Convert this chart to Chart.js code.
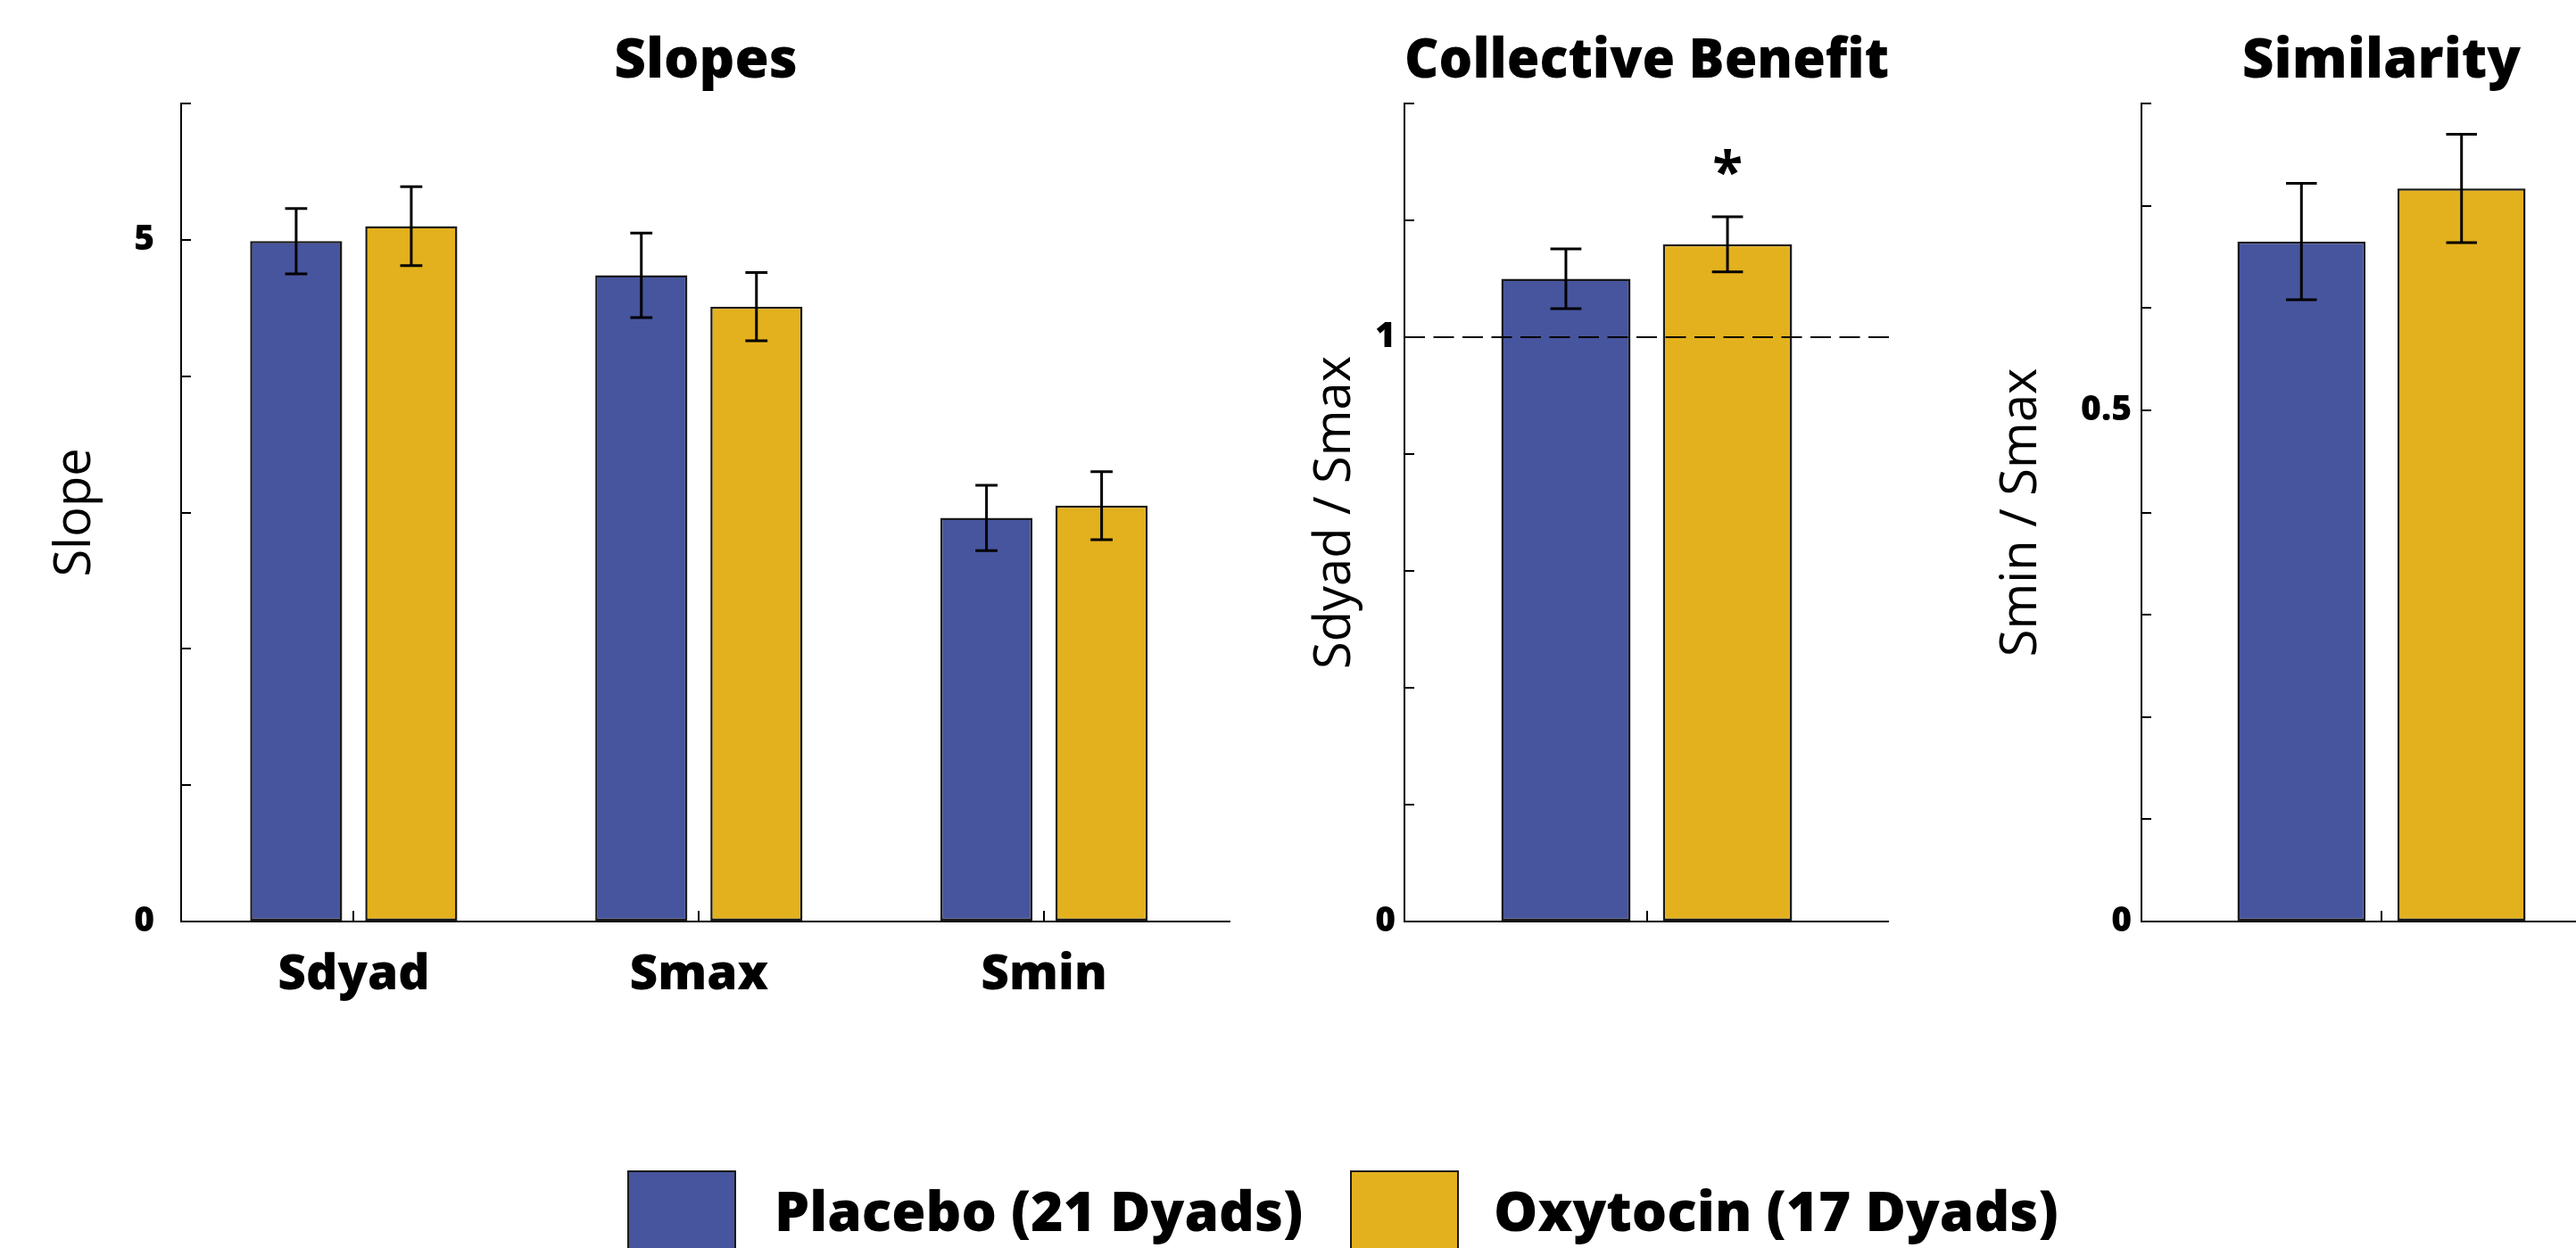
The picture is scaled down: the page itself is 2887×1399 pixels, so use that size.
<!DOCTYPE html>
<html>
<head>
<meta charset="utf-8">
<title>Slopes, collective benefit and similarity by group</title>
<script src="https://cdn.jsdelivr.net/npm/chart.js@4.4.1/dist/chart.umd.min.js"></script>
<style>
  html, body { margin: 0; padding: 0; background: #fff; overflow: hidden; }
  body { position: relative; width: 2887px; height: 1399px; }
  .panel { position: absolute; top: 0; height: 1200px; }
  .panel canvas { display: block; }
  .swatch { position: absolute; top: 1312px; width: 122px; height: 100px; border: 2px solid #1a1a1a; box-sizing: border-box; }
  .legend-text { position: absolute; top: 1325px; font-family: "Open Sans", sans-serif; font-weight: 800; font-size: 62px; line-height: 1; white-space: nowrap; color: #000; }
</style>
</head>
<body>
<div class="panel" style="left:0;width:1379px"><canvas id="slopes"></canvas></div>
<div class="panel" style="left:1420px;width:697px"><canvas id="benefit"></canvas></div>
<div class="panel" style="left:2200px;width:738px"><canvas id="similarity"></canvas></div>

<div class="swatch" id="swatchPlacebo" style="left:703px"></div>
<div class="legend-text" id="labelPlacebo" style="left:868px"></div>
<div class="swatch" id="swatchOxytocin" style="left:1513px"></div>
<div class="legend-text" id="labelOxytocin" style="left:1674px"></div>

<script>
// ---- data -------------------------------------------------------------
const groupNames = ['Placebo (21 Dyads)', 'Oxytocin (17 Dyads)'];

// Slopes panel
const slopeCategories   = ['Sdyad', 'Smax', 'Smin'];
const slopePlacebo      = [4.99, 4.74, 2.96];
const slopePlaceboErr   = [0.24, 0.31, 0.24];
const slopeOxytocin     = [5.10, 4.51, 3.05];
const slopeOxytocinErr  = [0.29, 0.25, 0.25];
const slopeAxis         = [0, 6, 1];        // min, max, step
const slopeTickLabels   = [0, 5];

// Collective benefit panel
const benefitCategories  = ['Sdyad / Smax'];
const benefitPlacebo     = [1.10];
const benefitPlaceboErr  = [0.051];
const benefitOxytocin    = [1.159];
const benefitOxytocinErr = [0.047];
const benefitMarks       = ['', '*'];      // significance per group
const benefitReference   = 1;
const benefitAxis        = [0, 1.4, 0.2];
const benefitTickLabels  = [0, 1];

// Similarity panel
const similarityCategories  = ['Smin / Smax'];
const similarityPlacebo     = [0.665];
const similarityPlaceboErr  = [0.057];
const similarityOxytocin    = [0.717];
const similarityOxytocinErr = [0.053];
const similarityAxis        = [0, 0.8, 0.1];
const similarityTickLabels  = [0, 0.5];

// ---- styling ----------------------------------------------------------
const PLACEBO_COLOR  = '#47559e';
const OXYTOCIN_COLOR = '#e3b11d';
const EDGE_COLOR     = '#1a1a1a';
const FONT = '"Open Sans", sans-serif';

Chart.defaults.font.family = FONT;
Chart.defaults.color = '#000';

document.getElementById('swatchPlacebo').style.background = PLACEBO_COLOR;
document.getElementById('swatchOxytocin').style.background = OXYTOCIN_COLOR;
document.getElementById('labelPlacebo').textContent = groupNames[0];
document.getElementById('labelOxytocin').textContent = groupNames[1];

// Error bars (mean ± error) and optional significance marks above them
const errorBarPlugin = {
  id: 'errorBars',
  afterDatasetsDraw(chart, args, opts) {
    const ctx = chart.ctx;
    const yScale = chart.scales.y;
    ctx.save();
    ctx.strokeStyle = '#000';
    ctx.fillStyle = '#000';
    ctx.lineWidth = 3;
    chart.data.datasets.forEach((ds, di) => {
      const meta = chart.getDatasetMeta(di);
      const errs = (opts.errors && opts.errors[di]) || [];
      meta.data.forEach((bar, i) => {
        const v = ds.data[i];
        const e = errs[i];
        if (e == null) return;
        const top = yScale.getPixelForValue(v + e);
        const bot = yScale.getPixelForValue(v - e);
        const half = bar.width * 0.12;
        ctx.beginPath();
        ctx.moveTo(bar.x, top); ctx.lineTo(bar.x, bot);
        ctx.moveTo(bar.x - half, top); ctx.lineTo(bar.x + half, top);
        ctx.moveTo(bar.x - half, bot); ctx.lineTo(bar.x + half, bot);
        ctx.stroke();
        const mark = opts.marks && opts.marks[di];
        if (mark) {
          ctx.font = 'bold 62px ' + FONT;
          ctx.textAlign = 'center';
          ctx.textBaseline = 'alphabetic';
          ctx.fillText(mark, bar.x, top - 28);
        }
      });
    });
    ctx.restore();
  }
};

// Dashed horizontal reference line
const referenceLinePlugin = {
  id: 'referenceLine',
  afterDatasetsDraw(chart, args, opts) {
    if (opts.value == null) return;
    const ctx = chart.ctx;
    const y = chart.scales.y.getPixelForValue(opts.value);
    const area = chart.chartArea;
    ctx.save();
    ctx.strokeStyle = '#000';
    ctx.lineWidth = 2;
    ctx.setLineDash([23, 9.5]);
    ctx.beginPath();
    ctx.moveTo(area.left, y);
    ctx.lineTo(area.right, y);
    ctx.stroke();
    ctx.restore();
  }
};

function barDataset(label, data, color) {
  return {
    label, data,
    backgroundColor: color,
    borderColor: EDGE_COLOR,
    borderWidth: 2.5,
    borderSkipped: false,
    categoryPercentage: 0.667,
    barPercentage: 0.8
  };
}

function makePanel(id, cfg) {
  const [yMin, yMax, yStep] = cfg.axis;
  new Chart(document.getElementById(id), {
    type: 'bar',
    data: {
      labels: cfg.categories,
      datasets: [
        barDataset(groupNames[0], cfg.placebo, PLACEBO_COLOR),
        barDataset(groupNames[1], cfg.oxytocin, OXYTOCIN_COLOR)
      ]
    },
    plugins: [errorBarPlugin, referenceLinePlugin],
    options: {
      responsive: true,
      maintainAspectRatio: false,
      animation: false,
      devicePixelRatio: 1,
      layout: { padding: 0, autoPadding: false },
      plugins: {
        legend: { display: false },
        tooltip: { enabled: false },
        title: {
          display: true,
          text: cfg.title,
          fullSize: false,
          color: '#000',
          font: { family: FONT, size: 62, weight: '800' },
          padding: { top: 32, bottom: 9.6 }
        },
        errorBars: { errors: cfg.errors, marks: cfg.marks },
        referenceLine: { value: cfg.reference }
      },
      scales: {
        x: {
          offset: true,
          afterFit(scale) { scale.height = 167; },
          afterBuildTicks(scale) {
            if (cfg.extraRange) scale._valueRange = cfg.categories.length + cfg.extraRange;
          },
          grid: { offset: false, drawOnChartArea: false, drawTicks: true, tickLength: -12, color: '#000', lineWidth: 2 },
          border: { display: true, color: '#000', width: 2 },
          ticks: {
            display: true,
            maxRotation: 0,
            autoSkip: false,
            padding: 39,
            color: '#000',
            font: { family: FONT, size: 55, weight: '800' },
            callback(value) { return cfg.showCategories ? this.getLabelForValue(value) : ''; }
          }
        },
        y: {
          min: yMin, max: yMax,
          afterFit(scale) { scale.width = cfg.axisWidth; },
          grid: { drawOnChartArea: false, drawTicks: true, tickLength: -11, color: '#000', lineWidth: 2 },
          border: { display: true, color: '#000', width: 2 },
          ticks: {
            stepSize: yStep,
            padding: cfg.tickPadding,
            color: '#000',
            font: { family: FONT, size: 39, weight: '800' },
            callback(value) {
              const hit = cfg.tickLabels.find(t => Math.abs(t - value) < 1e-9);
              return hit === undefined ? '' : String(hit);
            }
          },
          title: {
            display: true,
            text: cfg.yTitle,
            color: '#000',
            font: { family: FONT, size: 56, weight: 'normal' },
            padding: { top: cfg.yTitleGap, bottom: 0 }
          }
        }
      }
    }
  });
}

makePanel('slopes', {
  title: 'Slopes', yTitle: 'Slope',
  categories: slopeCategories, showCategories: true, extraRange: 0.04,
  placebo: slopePlacebo, oxytocin: slopeOxytocin,
  errors: [slopePlaceboErr, slopeOxytocinErr],
  axis: slopeAxis, tickLabels: slopeTickLabels,
  axisWidth: 203, tickPadding: 41, yTitleGap: 51
});

makePanel('benefit', {
  title: 'Collective Benefit', yTitle: 'Sdyad / Smax',
  categories: benefitCategories, showCategories: false,
  placebo: benefitPlacebo, oxytocin: benefitOxytocin,
  errors: [benefitPlaceboErr, benefitOxytocinErr], marks: benefitMarks,
  reference: benefitReference,
  axis: benefitAxis, tickLabels: benefitTickLabels,
  axisWidth: 154, tickPadding: 21, yTitleGap: 43
});

makePanel('similarity', {
  title: 'Similarity', yTitle: 'Smin / Smax',
  categories: similarityCategories, showCategories: false,
  placebo: similarityPlacebo, oxytocin: similarityOxytocin,
  errors: [similarityPlaceboErr, similarityOxytocinErr],
  axis: similarityAxis, tickLabels: similarityTickLabels,
  axisWidth: 200, tickPadding: 22, yTitleGap: 32
});
</script>
</body>
</html>
